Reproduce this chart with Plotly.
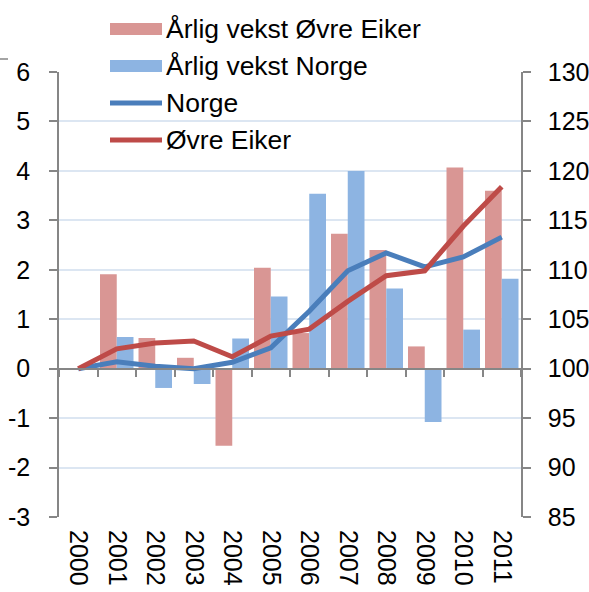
import plotly.graph_objects as go

years = ["2000", "2001", "2002", "2003", "2004", "2005", "2006", "2007", "2008", "2009", "2010", "2011"]
vekst_eiker = [0, 1.91, 0.62, 0.22, -1.56, 2.04, 0.72, 2.73, 2.40, 0.45, 4.07, 3.60]
vekst_norge = [0, 0.64, -0.39, -0.31, 0.61, 1.46, 3.54, 4.00, 1.62, -1.08, 0.79, 1.82]
indeks_norge = [100, 100.7, 100.25, 100.0, 100.65, 102.1, 105.8, 109.9, 111.7, 110.3, 111.3, 113.3]
indeks_eiker = [100, 102.0, 102.6, 102.8, 101.2, 103.3, 104.0, 106.8, 109.4, 109.9, 114.4, 118.4]

left_ticks = list(range(-3, 7))
left_labels = [str(v) for v in left_ticks]
right_ticks = list(range(85, 131, 5))
right_labels = [str(v) for v in right_ticks]

C_BAR_RED = "#D99694"
C_BAR_BLUE = "#8DB4E2"
C_LINE_BLUE = "#4A7EBB"
C_LINE_RED = "#BE4B48"
AXIS = "#868686"
GRID = "#DCE6F2"
FONT = "Liberation Sans, Arial, sans-serif"

W, H = 589, 592
ML, MR, MT, MB = 59, 68, 72, 75
PW, PH = W - ML - MR, H - MT - MB

fig = go.Figure()
fig.add_trace(go.Bar(x=years, y=vekst_eiker, name="Årlig vekst Øvre Eiker",
                     marker=dict(color=C_BAR_RED, line=dict(width=0))))
fig.add_trace(go.Bar(x=years, y=vekst_norge, name="Årlig vekst Norge",
                     marker=dict(color=C_BAR_BLUE, line=dict(width=0))))
fig.add_trace(go.Scatter(x=years, y=indeks_norge, name="Norge", yaxis="y2", mode="lines",
                         line=dict(color=C_LINE_BLUE, width=5)))
fig.add_trace(go.Scatter(x=years, y=indeks_eiker, name="Øvre Eiker", yaxis="y2", mode="lines",
                         line=dict(color=C_LINE_RED, width=5)))

ncat = len(years)
boundaries = [i - 0.5 for i in range(ncat + 1)]
# invisible helper trace so the zero-crossing category axis (x2) is drawn
fig.add_trace(go.Scatter(x=[boundaries[0]], y=[0], xaxis="x2", yaxis="y", mode="markers",
                         marker=dict(opacity=0), hoverinfo="skip", showlegend=False))

fig.update_layout(
    width=W, height=H,
    margin=dict(l=ML, r=MR, t=MT, b=MB, pad=0),
    paper_bgcolor="white", plot_bgcolor="white",
    showlegend=False,
    barmode="group", bargap=0.13, bargroupgap=0,
    font=dict(family=FONT, size=25, color="black"),
    xaxis=dict(type="category", range=[-0.5, ncat - 0.5], tickangle=90, automargin=False,
               ticks="", showline=False, showgrid=False, zeroline=False,
               ticklabelstandoff=12, tickfont=dict(size=25, color="black")),
    xaxis2=dict(overlaying="x", anchor="free", position=3 / 9, range=[-0.5, ncat - 0.5],
                automargin=False,
                tickmode="array", tickvals=boundaries, ticks="outside", ticklen=8,
                tickwidth=1.5, tickcolor=AXIS, showline=True, linecolor=AXIS, linewidth=1.5,
                showticklabels=False, showgrid=False, zeroline=False),
    yaxis=dict(range=[-3, 6], tickmode="array", tickvals=left_ticks, ticktext=left_labels,
               automargin=False,
               ticks="outside", ticklen=8, tickwidth=1.5, tickcolor=AXIS,
               showline=True, linecolor=AXIS, linewidth=1.5,
               showgrid=True, gridcolor=GRID, gridwidth=1.5, zeroline=False,
               ticklabelstandoff=14, tickfont=dict(size=25, color="black")),
    yaxis2=dict(range=[85, 130], overlaying="y", side="right", tickmode="array",
                tickvals=right_ticks, ticktext=right_labels, automargin=False,
                ticks="outside", ticklen=8, tickwidth=1.5, tickcolor=AXIS,
                showline=True, linecolor=AXIS, linewidth=1.5, showgrid=False, zeroline=False,
                ticklabelstandoff=12, tickfont=dict(size=25, color="black")),
)


def px2paper(px, py):
    return (px - ML) / PW, (H - MB - py) / PH


# manual legend
legend_items = [
    ("Årlig vekst Øvre Eiker", "bar", C_BAR_RED, 29),
    ("Årlig vekst Norge", "bar", C_BAR_BLUE, 66),
    ("Norge", "line", C_LINE_BLUE, 103),
    ("Øvre Eiker", "line", C_LINE_RED, 140),
]
shapes = []
annotations = []
for label, kind, color, cy in legend_items:
    if kind == "bar":
        x0, y0 = px2paper(110, cy + 6)
        x1, y1 = px2paper(162, cy - 6)
        shapes.append(dict(type="rect", xref="paper", yref="paper", x0=x0, y0=y0, x1=x1, y1=y1,
                           fillcolor=color, line=dict(width=0), layer="above"))
    else:
        x0, y0 = px2paper(110, cy)
        x1, _ = px2paper(162, cy)
        shapes.append(dict(type="line", xref="paper", yref="paper", x0=x0, y0=y0, x1=x1, y1=y0,
                           line=dict(color=color, width=5), layer="above"))
    tx, ty = px2paper(164, cy)
    annotations.append(dict(text=label, xref="paper", yref="paper", x=tx, y=ty,
                            xanchor="left", yanchor="middle", showarrow=False,
                            font=dict(family=FONT, size=26.5, color="black")))

# small border fragment at top-left
gx0, gy = px2paper(0, 59)
gx1, _ = px2paper(8, 59)
shapes.append(dict(type="line", xref="paper", yref="paper", x0=gx0, y0=gy, x1=gx1, y1=gy,
                   line=dict(color=AXIS, width=1.5)))

fig.update_layout(shapes=shapes, annotations=annotations)
fig.write_html("out.html", config={"displayModeBar": False},
               post_script="document.body.style.margin='0';document.body.style.overflow='hidden';")
